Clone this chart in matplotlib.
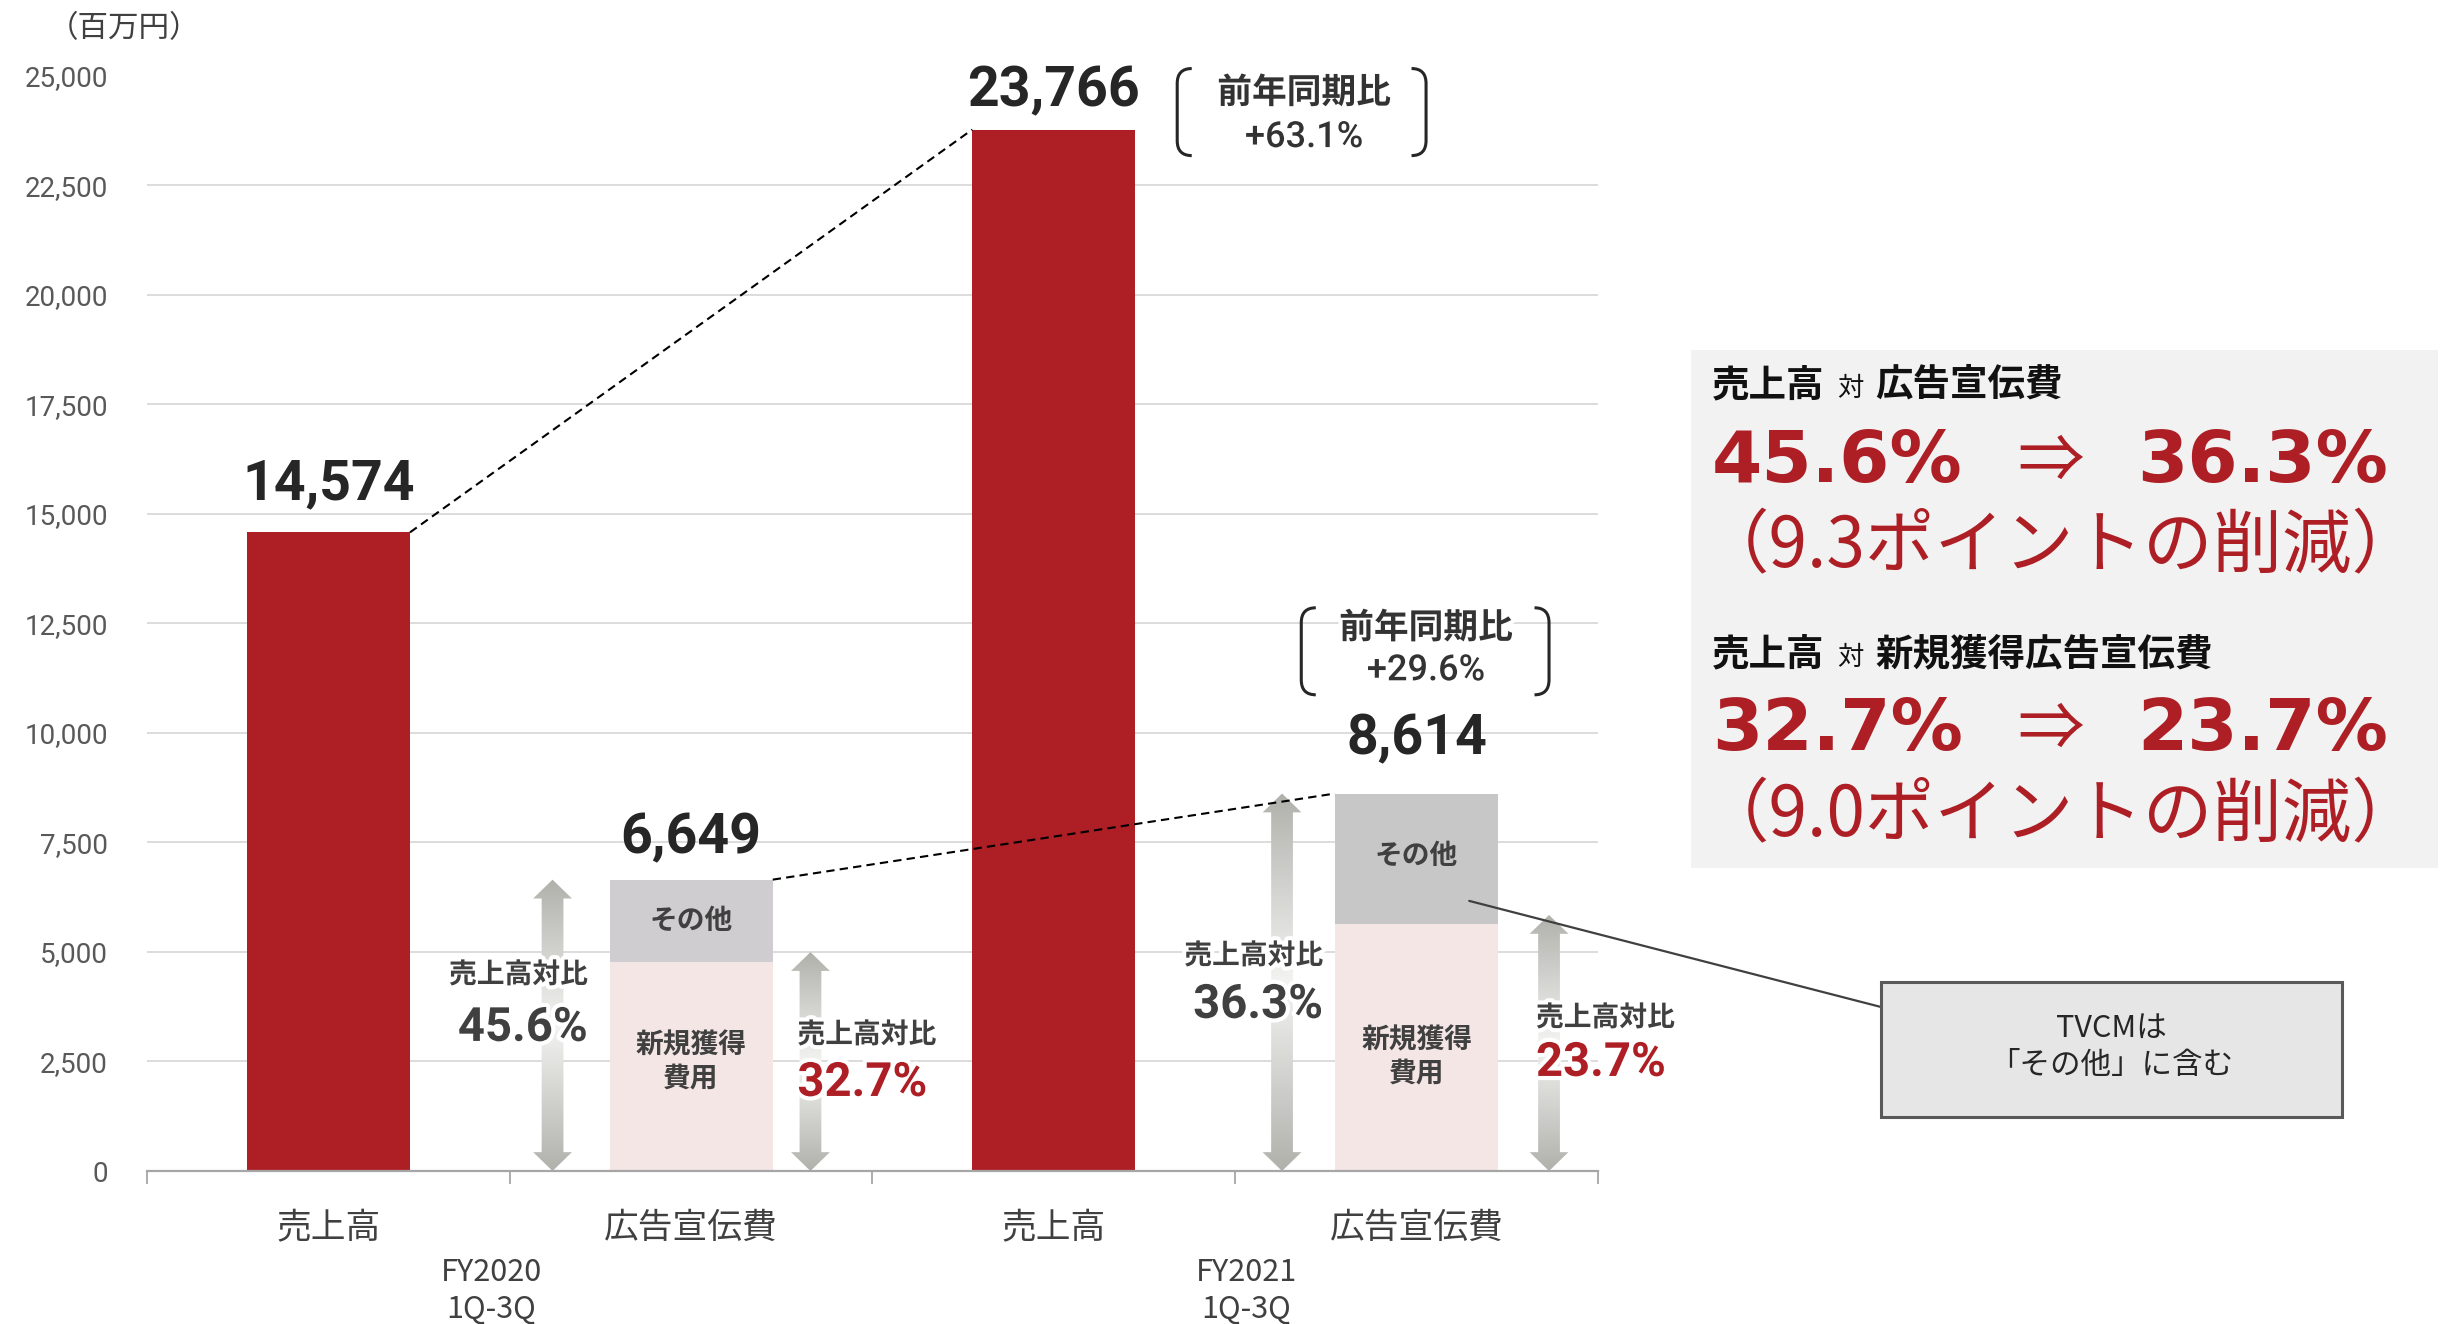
import numpy as np
import matplotlib
matplotlib.use('Agg')
import matplotlib.pyplot as plt
import matplotlib.patheffects as pe
from matplotlib.patches import Polygon, Rectangle, PathPatch
from matplotlib.path import Path
from matplotlib.colors import LinearSegmentedColormap

# data
categories = ['売上高', '広告宣伝費', '売上高', '広告宣伝費']
periods = ['FY2020', 'FY2021']
sales = [14574, 23766]
ad_total = [6649, 8614]
ad_new = [4766, 5633]                     # 新規獲得費用
ad_other = [t - n for t, n in zip(ad_total, ad_new)]   # その他
ratio_total = ['45.6%', '36.3%']
ratio_new = ['32.7%', '23.7%']
yoy = ['+63.1%', '+29.6%']
yticks = np.arange(0, 25001, 2500)

RED = '#AD1F25'
PINK = '#F5E6E6'
GRAYS = ['#CFCDCF', '#C7C7C7']
DARK = '#404040'
JP = ['Noto Sans CJK JP', 'DejaVu Sans']
NUM = ['Roboto', 'Noto Sans CJK JP']

plt.rcParams['font.family'] = JP

W, H = 2449, 1324
fig = plt.figure(figsize=(W / 100, H / 100), dpi=100)
fx = lambda px: px / W
fy = lambda py: 1 - py / H

ax = fig.add_axes([fx(147), fy(1171), fx(1598) - fx(147), fy(75.5) - fy(1171)])

sales_x = [0, 2]
ad_x = [1, 3]
bw = 0.45
ax.bar(sales_x, sales, width=bw, color=RED, zorder=2)
ax.bar(ad_x, ad_new, width=bw, color=PINK, zorder=2)
ax.bar(ad_x, ad_other, bottom=ad_new, width=bw, color=GRAYS, zorder=2)

# axes styling
ax.set_xlim(-0.5, 3.5)
ax.set_ylim(0, 25000)
ax.set_yticks(yticks)
ax.set_yticklabels([f'{v:,}' for v in yticks], family=NUM, fontsize=20, color='#595959')
ax.tick_params(axis='y', length=0, pad=28)
ax.set_xticks(range(4))
ax.set_xticklabels(categories, fontsize=25, color=DARK)
ax.tick_params(axis='x', which='major', length=0, pad=29)
ax.set_xticks(np.arange(-0.5, 3.6, 1), minor=True)
ax.tick_params(axis='x', which='minor', length=9, width=1.3, color='#A6A6A6')
ax.yaxis.grid(True, color='#D9D9D9', lw=1.3)
ax.set_axisbelow(True)
for s in ['top', 'right', 'left']:
    ax.spines[s].set_visible(False)
ax.spines['bottom'].set_color('#A6A6A6')
ax.spines['bottom'].set_linewidth(1.6)
ax.spines['bottom'].set_zorder(4)

# period labels under the axis
tr = ax.get_xaxis_transform()
for xc, p in zip([0.45, 2.53], periods):
    ax.text(xc, -0.0925, p, transform=tr, ha='center', va='center', fontsize=22, color=DARK)
    ax.text(xc, -0.1265, '1Q-3Q', transform=tr, ha='center', va='center', fontsize=22, color=DARK)

fig.text(fx(124), fy(29), '（百万円）', ha='center', va='center', fontsize=22, color=DARK)

# dashed growth lines
dash = (0, (4, 2.5))
ax.plot([sales_x[0] + bw / 2, sales_x[1] - bw / 2], sales, ls=dash, color='black', lw=1.5, zorder=5)
ax.plot([ad_x[0] + bw / 2, ad_x[1] - bw / 2], ad_total, ls=dash, color='black', lw=1.5, zorder=5)

# value labels on bars
glow = [pe.withStroke(linewidth=6, foreground='white')]
for xv, v, off in zip(sales_x + ad_x, sales + ad_total, [33, 23, 26, 39]):
    ax.annotate(f'{v:,}', (xv, v), xytext=(0, off * 0.72), textcoords='offset points',
                ha='center', va='baseline', fontsize=40, fontweight='bold',
                family=NUM, color='#262626', zorder=6)

# segment labels
for xv, y in zip(ad_x, [5708, 7200]):
    ax.text(xv, y, 'その他', ha='center', va='center', fontsize=20, fontweight='bold', color=DARK, zorder=6)
for xv, y in zip(ad_x, [2490, 2600]):
    ax.text(xv, y, '新規獲得\n費用', ha='center', va='center', fontsize=20, fontweight='bold',
            color=DARK, linespacing=1.25, zorder=6)

# gradient double arrows
arrow_cmap = LinearSegmentedColormap.from_list('arr', ['#F3F3F1', '#B1B1AC'])


def grad_arrow(x, top, shaft=0.06, head=0.107, hlen=430):
    pts = [(x - shaft / 2, hlen), (x - head / 2, hlen), (x, 0), (x + head / 2, hlen),
           (x + shaft / 2, hlen), (x + shaft / 2, top - hlen), (x + head / 2, top - hlen),
           (x, top), (x - head / 2, top - hlen), (x - shaft / 2, top - hlen)]
    poly = Polygon(pts, closed=True, fc='none', ec='none')
    ax.add_patch(poly)
    g = np.abs(np.linspace(-1, 1, 256))[:, None]
    im = ax.imshow(g, cmap=arrow_cmap, extent=(x - head / 2, x + head / 2, 0, top),
                   aspect='auto', origin='lower', vmin=0, vmax=1, zorder=3)
    im.set_clip_path(poly)


arrow_x = [0.618, 1.329, 2.629, 3.365]
arrow_top = [ad_total[0], ad_new[0] + 230, ad_total[1], ad_new[1] + 210]
for xa, ta in zip(arrow_x, arrow_top):
    grad_arrow(xa, ta)

# ratio labels next to arrows
lab = dict(fontsize=20, fontweight='bold', color=DARK, zorder=6, path_effects=glow)
big = dict(fontsize=34, fontweight='bold', family=NUM, zorder=6, path_effects=glow)
ax.text(0.715, 4475, '売上高対比', ha='right', va='center', **lab)
ax.text(0.715, 3265, ratio_total[0], ha='right', va='center', color=DARK, **big)
ax.text(1.293, 3105, '売上高対比', ha='left', va='center', **lab)
ax.text(1.293, 2009, ratio_new[0], ha='left', va='center', color=RED, **big)
ax.text(2.742, 4908, '売上高対比', ha='right', va='center', **lab)
ax.text(2.742, 3790, ratio_total[1], ha='right', va='center', color=DARK, **big)
ax.text(3.329, 3493, '売上高対比', ha='left', va='center', **lab)
ax.text(3.329, 2466, ratio_new[1], ha='left', va='center', color=RED, **big)


# year-on-year brackets
def bracket(x0, x1, y0, y1, rx=0.04, ry=340):
    for xe, s in [(x0, 1), (x1, -1)]:
        verts = [(xe + s * rx, y1), (xe, y1), (xe, y1 - ry), (xe, y0 + ry), (xe, y0), (xe + s * rx, y0)]
        codes = [Path.MOVETO, Path.CURVE3, Path.CURVE3, Path.LINETO, Path.CURVE3, Path.CURVE3]
        ax.add_patch(PathPatch(Path(verts, codes), fc='none', ec='#262626', lw=2.2,
                               clip_on=False, zorder=6))


bracket(2.340, 3.026, 23172, 25159)
bracket(2.682, 3.365, 10867, 12853)
for xc, y1, y2, t in [(2.690, 24611, 23583, yoy[0]), (3.026, 12397, 11415, yoy[1])]:
    ax.text(xc, y1, '前年同期比', ha='center', va='center', fontsize=25, fontweight='bold',
            color='#333333', clip_on=False, path_effects=glow, zorder=7)
    ax.text(xc, y2, t, ha='center', va='center', fontsize=26, family=NUM, fontweight=500,
            color='#333333', clip_on=False, path_effects=glow, zorder=7)

# callout to TVCM note
ax.annotate('', xy=(3.145, 6164), xycoords='data', xytext=(fx(1881), fy(1007)),
            textcoords='figure fraction',
            arrowprops=dict(arrowstyle='-', color='#404040', lw=1.6, shrinkA=0, shrinkB=0))
fig.patches.append(Rectangle((fx(1881), fy(1117)), fx(2342) - fx(1881), fy(982) - fy(1117),
                             transform=fig.transFigure, fc='#E6E6E6', ec='#595959', lw=2.2))
fig.text(fx(2111), fy(1028), 'TVCMは', ha='center', va='center', fontsize=22, color='#262626')
fig.text(fx(2111), fy(1066), '「その他」に含む', ha='center', va='center', fontsize=22, color='#262626')

# summary panel
fig.patches.append(Rectangle((fx(1691), fy(868)), fx(2438) - fx(1691), fy(350) - fy(868),
                             transform=fig.transFigure, fc='#F2F2F2', ec='none'))
rows = [(396, '広告宣伝費', ratio_total, 482, 548, '（9.3ポイントの削減）'),
        (665, '新規獲得広告宣伝費', ratio_new, 750, 817, '（9.0ポイントの削減）')]
for hb, target, (r0, r1), nb, cy, note in rows:
    fig.text(fx(1712), fy(hb), '売上高', ha='left', va='baseline', fontsize=27, fontweight='bold', color='#111111')
    fig.text(fx(1837), fy(hb), '対', ha='left', va='baseline', fontsize=19, color='#111111')
    fig.text(fx(1875), fy(hb), target, ha='left', va='baseline', fontsize=27, fontweight='bold', color='#111111')
    fig.text(fx(1712), fy(nb), r0, ha='left', va='baseline', fontsize=52, fontweight='bold',
             family=['DejaVu Sans'], color=RED)
    fig.text(fx(2051), fy(nb), '⇒', ha='center', va='baseline', fontsize=48, color=RED)
    fig.text(fx(2388), fy(nb), r1, ha='right', va='baseline', fontsize=52, fontweight='bold',
             family=['DejaVu Sans'], color=RED)
    fig.text(fx(2061), fy(cy), note, ha='center', va='center', fontsize=50, color=RED)

fig.savefig('out.png', dpi=100)
